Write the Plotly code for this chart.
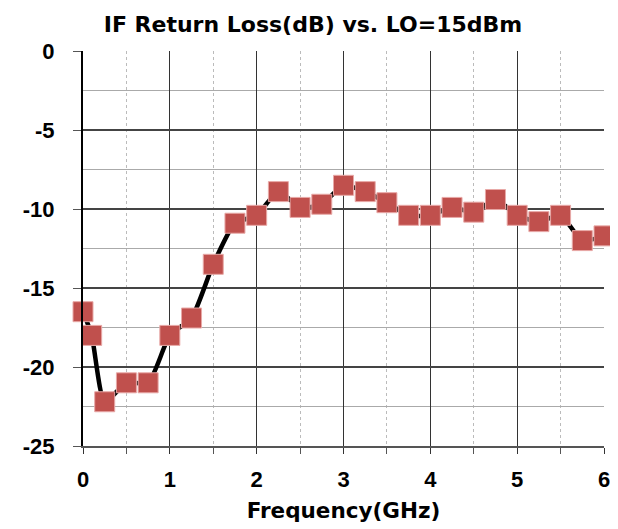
import plotly.graph_objects as go

freq_ghz = [0, 0.1, 0.25, 0.5, 0.75, 1.0, 1.25, 1.5, 1.75, 2.0, 2.25, 2.5, 2.75,
            3.0, 3.25, 3.5, 3.75, 4.0, 4.25, 4.5, 4.75, 5.0, 5.25, 5.5, 5.75, 6.0]
return_loss_db = [-16.5, -18.0, -22.2, -21.0, -21.0, -18.0, -16.9, -13.5, -10.9, -10.4,
                  -8.9, -9.9, -9.7, -8.5, -8.9, -9.6, -10.4, -10.4, -9.9, -10.2,
                  -9.4, -10.4, -10.8, -10.4, -12.0, -11.7]
x_ticks = [0, 1, 2, 3, 4, 5, 6]
y_ticks = [0, -5, -10, -15, -20, -25]

fig = go.Figure()
fig.add_trace(go.Scatter(
    x=freq_ghz, y=return_loss_db, mode="lines+markers",
    line=dict(color="black", width=4.5, shape="spline", smoothing=0.6),
    marker=dict(symbol="square", size=20, color="#C0504D",
                line=dict(color="#E8A9A7", width=1)),
    cliponaxis=False,
    showlegend=False,
))

# page body adds an 8px offset, so the figure is 8px smaller and margins shifted
fig.update_layout(
    width=610, height=521,
    margin=dict(l=75, r=14, t=43, b=83, autoexpand=False),
    paper_bgcolor="white", plot_bgcolor="white",
    title=dict(text="<b>IF Return Loss(dB) vs. LO=15dBm</b>", x=0.5, xanchor="center",
               y=0.969, yanchor="middle", automargin=False,
               font=dict(family="DejaVu Sans", size=22, color="black")),
    xaxis=dict(
        range=[0, 6], tickvals=x_ticks, ticktext=["<b>%d</b>" % v for v in x_ticks],
        showgrid=True, gridcolor="#333333", gridwidth=1,
        ticks="outside", ticklen=6, tickcolor="#333333",
        showline=True, linecolor="#555555", linewidth=2,
        zeroline=False, automargin=False, ticklabelstandoff=7,
        tickfont=dict(family="Liberation Sans", size=22, color="black"),
        minor=dict(dtick=0.5, showgrid=True, gridcolor="#BBBBBB", griddash="dot",
                   gridwidth=1, ticks="outside", ticklen=6, tickcolor="#555555"),
        title=dict(text="<b>Frequency(GHz)</b>", standoff=12,
                   font=dict(family="DejaVu Sans", size=21.5, color="black")),
    ),
    yaxis=dict(
        range=[-25, 0], tickvals=y_ticks, ticktext=["<b>%d</b>" % v for v in y_ticks],
        showgrid=True, gridcolor="#444444", gridwidth=1.5,
        ticks="outside", ticklen=8, tickcolor="#555555",
        showline=True, linecolor="black", linewidth=2,
        zeroline=False, automargin=False, ticklabelstandoff=14,
        tickfont=dict(family="Liberation Sans", size=22, color="black"),
        minor=dict(dtick=2.5, showgrid=True, gridcolor="#AAAAAA", gridwidth=1),
    ),
)

fig.write_html("out.html")
